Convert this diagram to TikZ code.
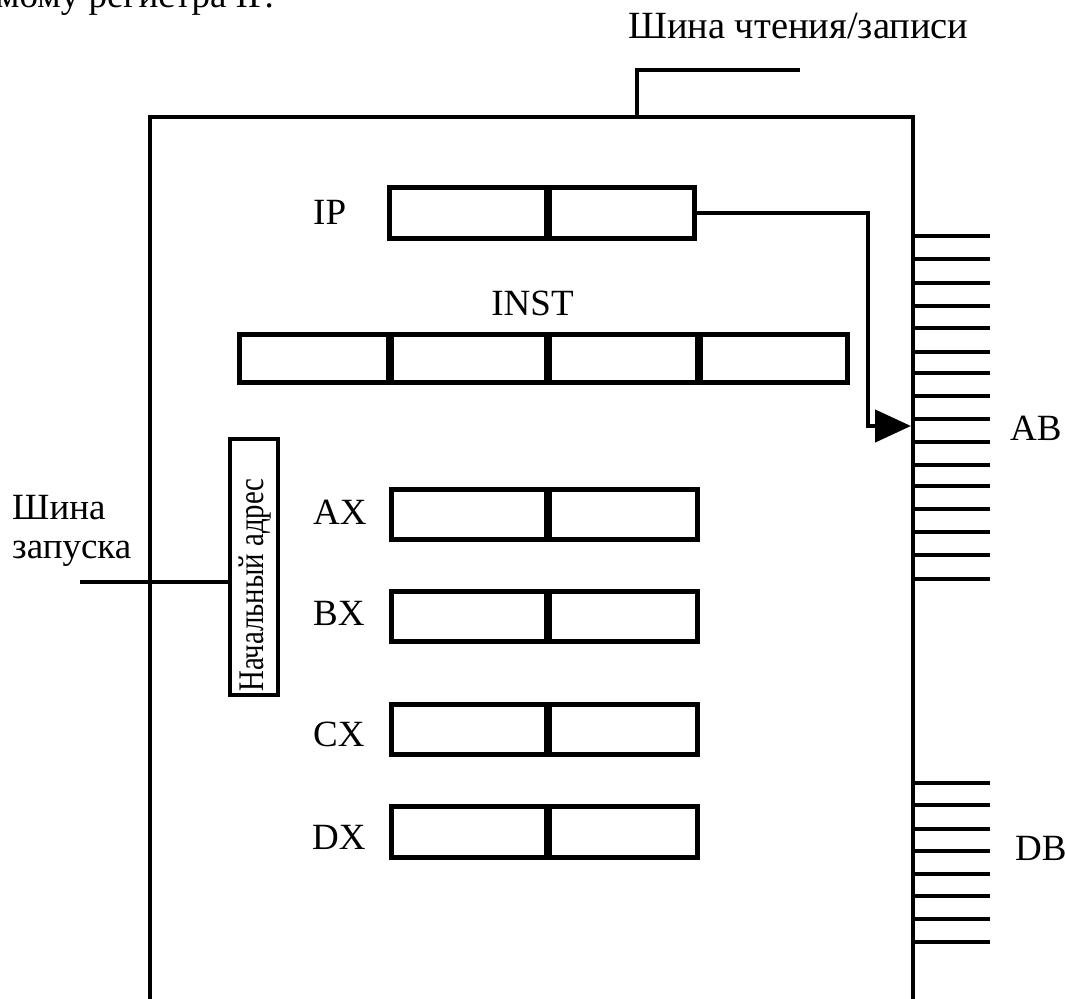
\documentclass[tikz,border=0pt]{standalone}
\usepackage{fontspec}
\setmainfont{Liberation Serif}
\usetikzlibrary{arrows.meta}
\begin{document}
\begin{tikzpicture}[x=1pt,y=-1pt,
  cell/.style={draw, line width=5pt, inner sep=0pt, minimum height=50pt},
  divider/.style={line width=7pt},
  wire/.style={line width=4.5pt},
  tick/.style={line width=4.5pt},
  lbl/.style={inner sep=0pt, font=\fontsize{37}{44}\selectfont},
]
\useasboundingbox (0,0) rectangle (1066,999);

% fragment of preceding text (cut at the top edge)
\node[lbl, anchor=base west] (frag) at (-4,7) {мому регистра IP.};

% frame
\coordinate (fbl) at (150,1010);
\coordinate (ftl) at (150,117);
\coordinate (ftr) at (913,117);
\coordinate (fbr) at (913,1010);
\draw[wire, line join=miter] (fbl) -- (ftl) -- (ftr) -- (fbr);

% read/write bus
\coordinate (rw1) at (637,117);
\coordinate (rw2) at (637,70);
\coordinate (rw3) at (800,70);
\draw[wire] (rw1) -- (rw2) -- (rw3);
\node[lbl, anchor=base west, font=\fontsize{38.5}{44}\selectfont] (rwl) at (628,38) {Шина чтения/записи};

% IP register
\node[cell, minimum width=156.5pt, minimum height=51pt] (ip1) at (467.75,213) {};
\node[cell, minimum width=148.5pt, minimum height=51pt] (ip2) at (620.25,213) {};
\draw[divider] (ip1.north east) -- (ip1.south east);
\node[lbl, anchor=base west] (ipl) at (313,224.5) {IP};

% INST register
\node[cell, minimum width=148.5pt, minimum height=48pt] (in1) at (313.75,358.5) {};
\node[cell, minimum width=158pt, minimum height=48pt] (in2) at (467,358.5) {};
\node[cell, minimum width=151pt, minimum height=48pt] (in3) at (621.5,358.5) {};
\node[cell, minimum width=150.5pt, minimum height=48pt] (in4) at (772.25,358.5) {};
\draw[divider] (in1.north east) -- (in1.south east);
\draw[divider] (in2.north east) -- (in2.south east);
\draw[divider] (in3.north east) -- (in3.south east);
\node[lbl, anchor=base] (instl) at (532.5,315) {INST};

% general registers
\node[cell, minimum width=154.5pt] (ax1) at (468.75,514.5) {};
\node[cell, minimum width=151.5pt] (ax2) at (621.75,514.5) {};
\draw[divider] (ax1.north east) -- (ax1.south east);
\node[lbl, anchor=base west] (axl) at (313,524.5) {AX};

\node[cell, minimum width=154.5pt] (bx1) at (468.75,616.5) {};
\node[cell, minimum width=151.5pt] (bx2) at (621.75,616.5) {};
\draw[divider] (bx1.north east) -- (bx1.south east);
\node[lbl, anchor=base west] (bxl) at (313,625.5) {BX};

\node[cell, minimum width=154.5pt] (cx1) at (468.75,729.5) {};
\node[cell, minimum width=151.5pt] (cx2) at (621.75,729.5) {};
\draw[divider] (cx1.north east) -- (cx1.south east);
\node[lbl, anchor=base west] (cxl) at (313,746.5) {CX};

\node[cell, minimum width=154.5pt, minimum height=51pt] (dx1) at (468.75,832) {};
\node[cell, minimum width=151.5pt, minimum height=51pt] (dx2) at (621.75,832) {};
\draw[divider] (dx1.north east) -- (dx1.south east);
\node[lbl, anchor=base west] (dxl) at (312,849.5) {DX};

% start address box
\node[draw, line width=4.5pt, inner sep=0pt, minimum width=48pt, minimum height=256pt] (nach) at (254,567) {};
\node[inner sep=0pt, rotate=90, font=\fontsize{36}{40}\selectfont] (nachl) at (255,585) {\scalebox{0.8}[1]{Начальный адрес}};

% start bus
\coordinate (zl) at (80,582);
\draw[wire] (zl) -- (zl -| nach.west);
\node[lbl, anchor=base west] (zl1) at (12,519) {Шина};
\node[lbl, anchor=base west] (zl2) at (12,558) {запуска};

% arrow IP -> AB
\coordinate (ar1) at (868,213);
\coordinate (ar2) at (868,426);
\coordinate (abin) at (911,426);
\draw[wire, -{Triangle[length=36pt,width=32pt]}] (ip2.east |- ar1) -- (ar1) -- (ar2) -- (abin);

% AB ticks
\foreach \y in {236,259,283,306,328,352,373,396,419,442,465,486,509,532,555,579}
  \draw[tick] (913,\y) -- (990,\y);
\node[lbl, anchor=base west] (abl) at (1010,440) {AB};

% DB ticks
\foreach \y in {783,805,829,851,874,896,919,942}
  \draw[tick] (913,\y) -- (990,\y);
\node[lbl, anchor=base west] (dbl) at (1015,860) {DB};
\end{tikzpicture}
\end{document}
